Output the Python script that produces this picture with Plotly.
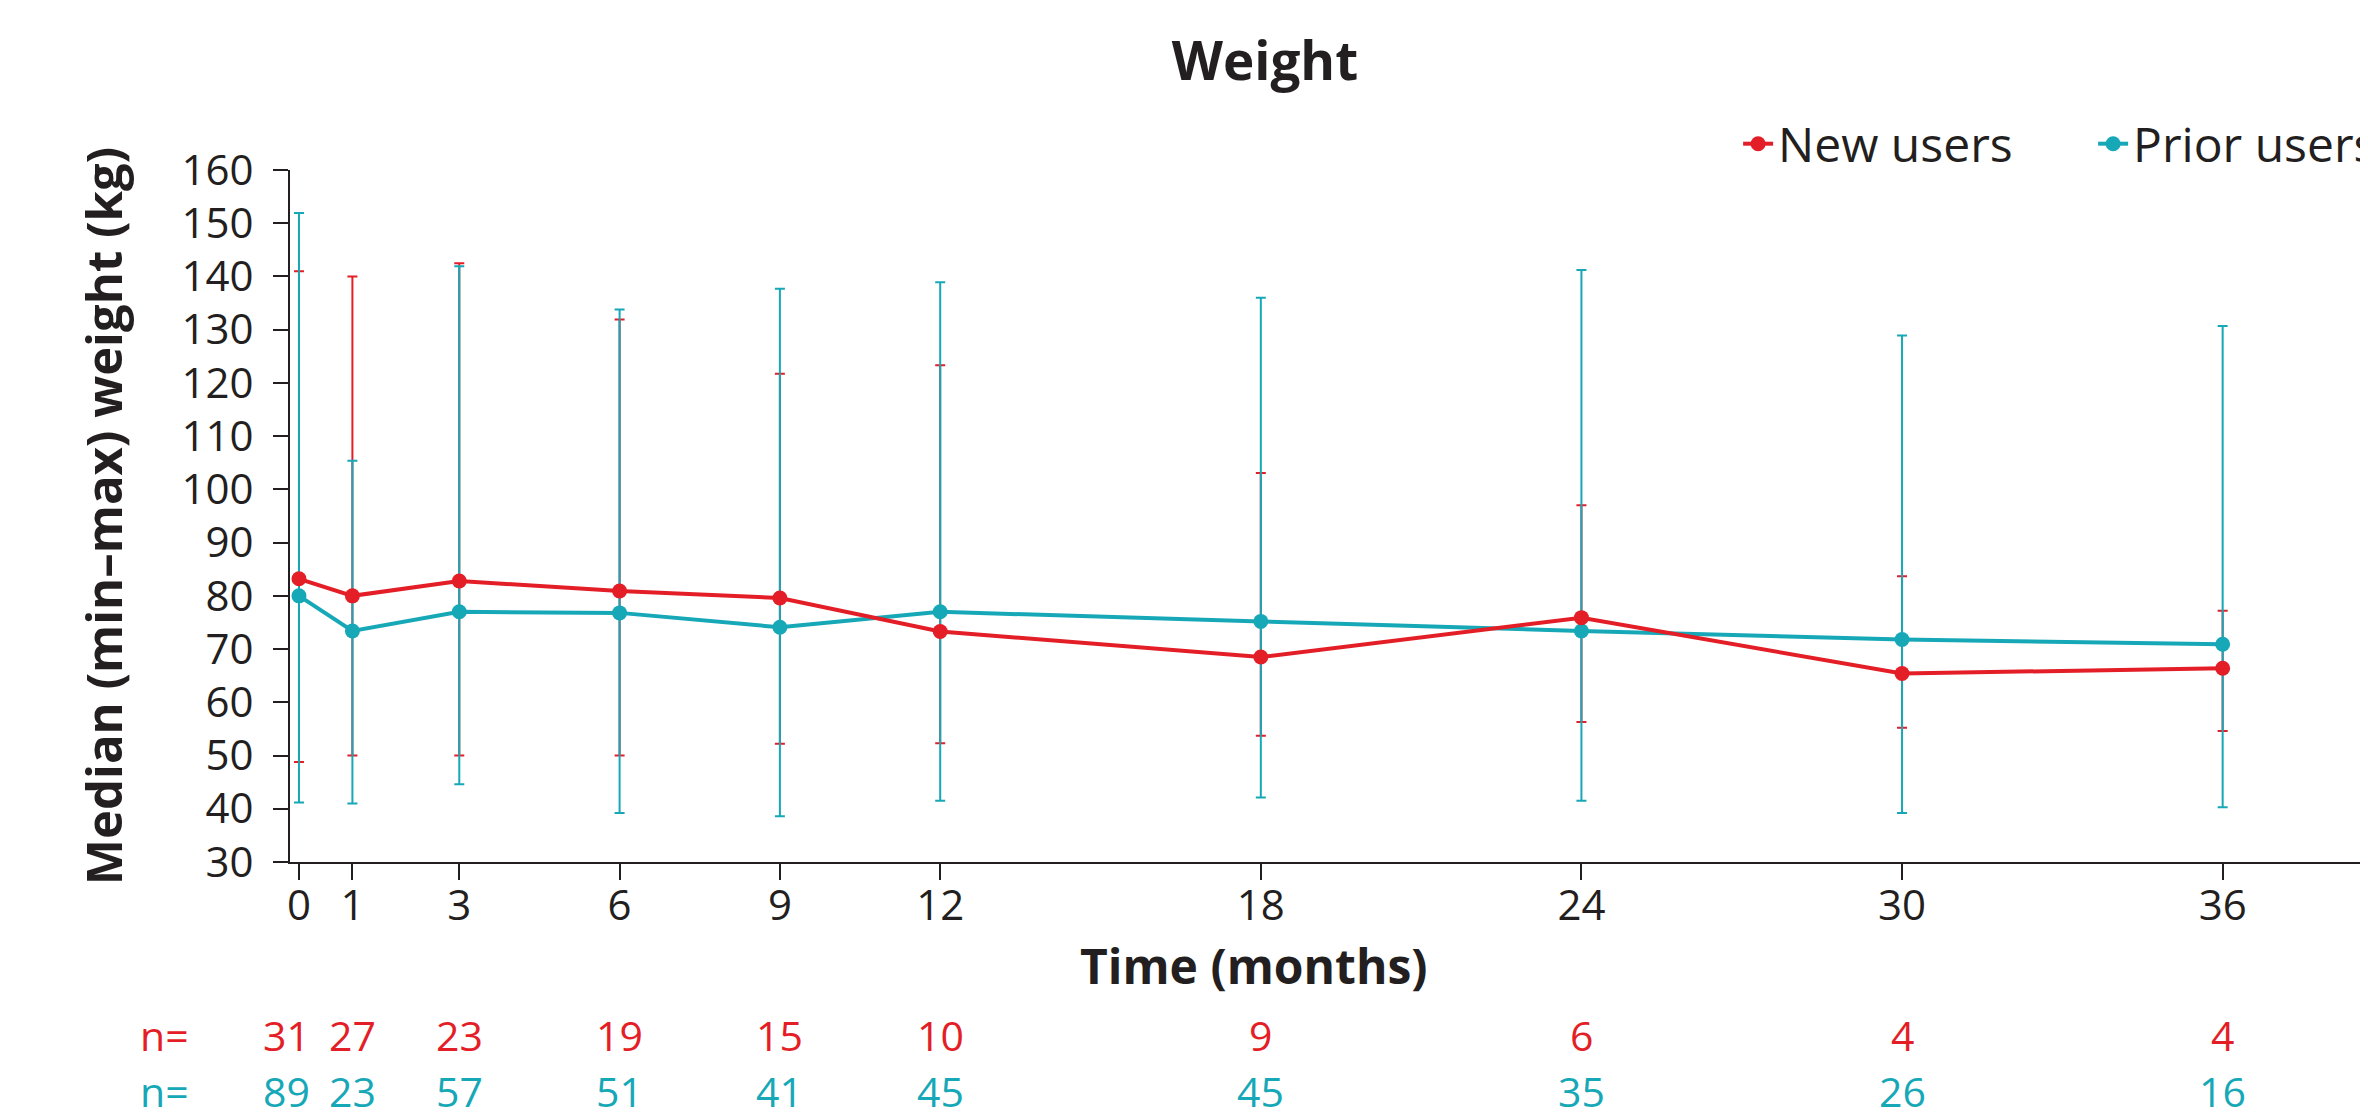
import plotly.graph_objects as go

# ---- data ----
months = [0, 1, 3, 6, 9, 12, 18, 24, 30, 36]
tick_labels = ["0", "1", "3", "6", "9", "12", "18", "24", "30", "36"]

new_median = [83.2, 80.0, 82.8, 80.9, 79.6, 73.3, 68.5, 75.9, 65.4, 66.4]
new_max = [141.0, 140.0, 142.5, 131.9, 121.7, 123.3, 103.1, 97.0, 83.7, 77.2]
new_min = [48.8, 50.0, 50.0, 50.0, 52.2, 52.3, 53.7, 56.3, 55.2, 54.6]
new_n = [31, 27, 23, 19, 15, 10, 9, 6, 4, 4]

prior_median = [80.0, 73.4, 77.0, 76.8, 74.1, 77.0, 75.2, 73.4, 71.8, 70.9]
prior_max = [151.9, 105.4, 141.9, 133.8, 137.7, 138.9, 136.0, 141.2, 128.9, 130.7]
prior_min = [41.2, 41.0, 44.6, 39.2, 38.6, 41.5, 42.1, 41.5, 39.2, 40.3]
prior_n = [89, 23, 57, 51, 41, 45, 45, 35, 26, 16]

RED = "#E31E26"
TEAL = "#17A8B8"
INK = "#231F20"
FONT = "Open Sans"

def err(med, hi, lo):
    return [h - m for h, m in zip(hi, med)], [m - l for m, l in zip(med, lo)]

fig = go.Figure()

# error bars first (red under teal), then lines + markers on top
for name, med, hi, lo, col in [("New users", new_median, new_max, new_min, RED),
                               ("Prior users", prior_median, prior_max, prior_min, TEAL)]:
    up, down = err(med, hi, lo)
    fig.add_trace(go.Scatter(
        x=months, y=med, mode="markers", showlegend=False, hoverinfo="skip",
        marker=dict(size=2, color=col, opacity=0),
        error_y=dict(type="data", symmetric=False, array=up, arrayminus=down,
                     color=col, thickness=2, width=5),
    ))

fig.add_trace(go.Scatter(
    x=months, y=prior_median, mode="lines+markers", name="Prior users",
    line=dict(color=TEAL, width=4), marker=dict(size=15, color=TEAL),
    legendrank=2,
))
fig.add_trace(go.Scatter(
    x=months, y=new_median, mode="lines+markers", name="New users",
    line=dict(color=RED, width=4), marker=dict(size=15, color=RED),
    legendrank=1,
))

annotations = []
# n rows
for row_y, counts, col in [(-0.250, new_n, RED), (-0.331, prior_n, TEAL)]:
    annotations.append(dict(text="n=", xref="paper", yref="paper", x=-0.0605, y=row_y,
                            showarrow=False, xanchor="center", yanchor="middle",
                            font=dict(family=FONT, size=41, color=col)))
    for t, c in zip(months, counts):
        annotations.append(dict(text=str(c), xref="x", yref="paper", x=t, y=row_y,
                                xshift=-12 if t == 0 else 0,
                                showarrow=False, xanchor="center", yanchor="middle",
                                font=dict(family=FONT, size=41, color=col)))
# x axis title
annotations.append(dict(text="<b>Time (months)</b>", xref="paper", yref="paper",
                        x=0.464, y=-0.149, showarrow=False, xanchor="center",
                        yanchor="middle", font=dict(family=FONT, size=48, color=INK)))

fig.update_layout(
    width=2360, height=1112,
    margin=dict(l=282, r=0, t=162, b=258, autoexpand=False),
    paper_bgcolor="white", plot_bgcolor="white",
    font=dict(family=FONT, color=INK),
    title=dict(text="<b>Weight</b>", xref="container", yref="container",
               x=0.5326, y=0.9523, xanchor="center", yanchor="middle",
               font=dict(family=FONT, size=53, color=INK)),
    legend=dict(orientation="h", xref="container", yref="container",
                x=0.7331, y=0.8777, xanchor="left", yanchor="middle",
                entrywidth=310, entrywidthmode="pixels",
                font=dict(family=FONT, size=48, color=INK),
                bgcolor="rgba(0,0,0,0)"),
    annotations=annotations,
    xaxis=dict(range=[-0.168, 38.72], tickmode="array", tickvals=months,
               ticktext=tick_labels, ticks="outside", ticklen=16, tickwidth=2,
               tickcolor=INK, showline=True, linecolor=INK, linewidth=2,
               showgrid=False, zeroline=False, ticklabelstandoff=-10,
               tickfont=dict(family=FONT, size=42, color=INK)),
    yaxis=dict(range=[30, 160], tickmode="linear", tick0=30, dtick=10,
               ticks="outside", ticklen=15, tickwidth=2, tickcolor=INK,
               showline=True, linecolor=INK, linewidth=2,
               showgrid=False, zeroline=False, ticklabelstandoff=11,
               tickfont=dict(family=FONT, size=42, color=INK),
               title=dict(text="<b>Median (min\u2013max) weight (kg)</b>",
                          font=dict(family=FONT, size=49, color=INK),
                          standoff=43)),
)

fig.write_html("out.html")
